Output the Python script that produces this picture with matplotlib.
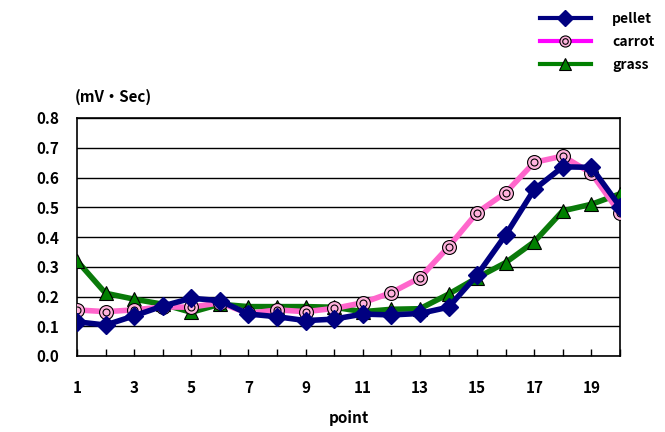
import matplotlib.pyplot as plt
from matplotlib.lines import Line2D

plt.rcParams['font.family'] = ['Noto Sans CJK JP', 'DejaVu Sans']
plt.rcParams['font.weight'] = 'bold'

points = list(range(1, 21))
pellet = [0.115, 0.104, 0.135, 0.168, 0.194, 0.186, 0.141, 0.132, 0.119, 0.124,
          0.141, 0.138, 0.143, 0.164, 0.272, 0.407, 0.560, 0.636, 0.634, 0.502]
carrot = [0.155, 0.149, 0.155, 0.165, 0.164, 0.179, 0.143, 0.155, 0.149, 0.160,
          0.179, 0.213, 0.263, 0.367, 0.482, 0.549, 0.651, 0.672, 0.614, 0.480]
grass = [0.320, 0.211, 0.191, 0.174, 0.147, 0.174, 0.166, 0.166, 0.166, 0.164,
         0.149, 0.157, 0.159, 0.208, 0.263, 0.314, 0.384, 0.488, 0.510, 0.545]

c_pellet = '#000080'
c_carrot = '#FF66CC'
c_grass = '#0A7A0A'

fig = plt.figure(figsize=(6.65, 4.32), dpi=100)
ax = fig.add_axes([77 / 665, 1 - 356 / 432, 543 / 665, 238 / 432])

# grass
ax.plot(points, grass, color=c_grass, lw=4, marker='^', ms=10,
        mfc='#008000', mec='black', mew=0.8, zorder=3)
# carrot (double circle marker)
ax.plot(points, carrot, color=c_carrot, lw=4, marker='o', ms=10,
        mfc='#FFB3DD', mec='black', mew=0.8, zorder=4)
ax.plot(points, carrot, ls='none', marker='o', ms=5,
        mfc='none', mec='black', mew=0.8, zorder=4)
# pellet
ax.plot(points, pellet, color=c_pellet, lw=4, marker='D', ms=9,
        mfc=c_pellet, mec=c_pellet, zorder=5)

ax.set_xlim(1, 20)
ax.set_ylim(0, 0.8)
ax.set_yticks([i / 10 for i in range(9)])
ax.set_yticklabels([f'{i / 10:.1f}' for i in range(9)])
ax.set_xticks(points)
ax.set_xticklabels([str(p) if p % 2 == 1 else '' for p in points])
ax.tick_params(axis='both', direction='in', length=5, width=1, labelsize=11)
ax.tick_params(axis='y', pad=13, length=0)
ax.tick_params(axis='x', pad=17)
for lab in ax.get_xticklabels() + ax.get_yticklabels():
    lab.set_fontweight('bold')
ax.yaxis.grid(True, color='black', lw=1)
ax.set_axisbelow(True)
for s in ax.spines.values():
    s.set_linewidth(1.2)
    s.set_color('black')

ax.set_xlabel('point', fontsize=11, fontweight='bold', labelpad=10)
fig.text(75 / 665, 1 - 97 / 432, '(mV・Sec)', fontsize=11, fontweight='bold',
         va='center', ha='left')

handles = [
    Line2D([], [], color=c_pellet, lw=3, marker='D', ms=8, mfc=c_pellet, mec=c_pellet),
    (Line2D([], [], color='#FF00FF', lw=3, marker='o', ms=8, mfc='#FFB3DD', mec='black', mew=0.8),
     Line2D([], [], ls='none', marker='o', ms=4, mfc='none', mec='black', mew=0.8)),
    Line2D([], [], color='#008000', lw=3, marker='^', ms=9, mfc='#008000', mec='black', mew=0.8),
]
fig.legend(handles, ['pellet', 'carrot', 'grass'], loc='upper left',
           bbox_to_anchor=(530 / 665, 1 - 2 / 432), frameon=False,
           prop={'weight': 'bold', 'size': 10},
           handlelength=3.7, handletextpad=1.5, labelspacing=0.65, borderaxespad=0.3)

fig.savefig('out.png', dpi=100)
